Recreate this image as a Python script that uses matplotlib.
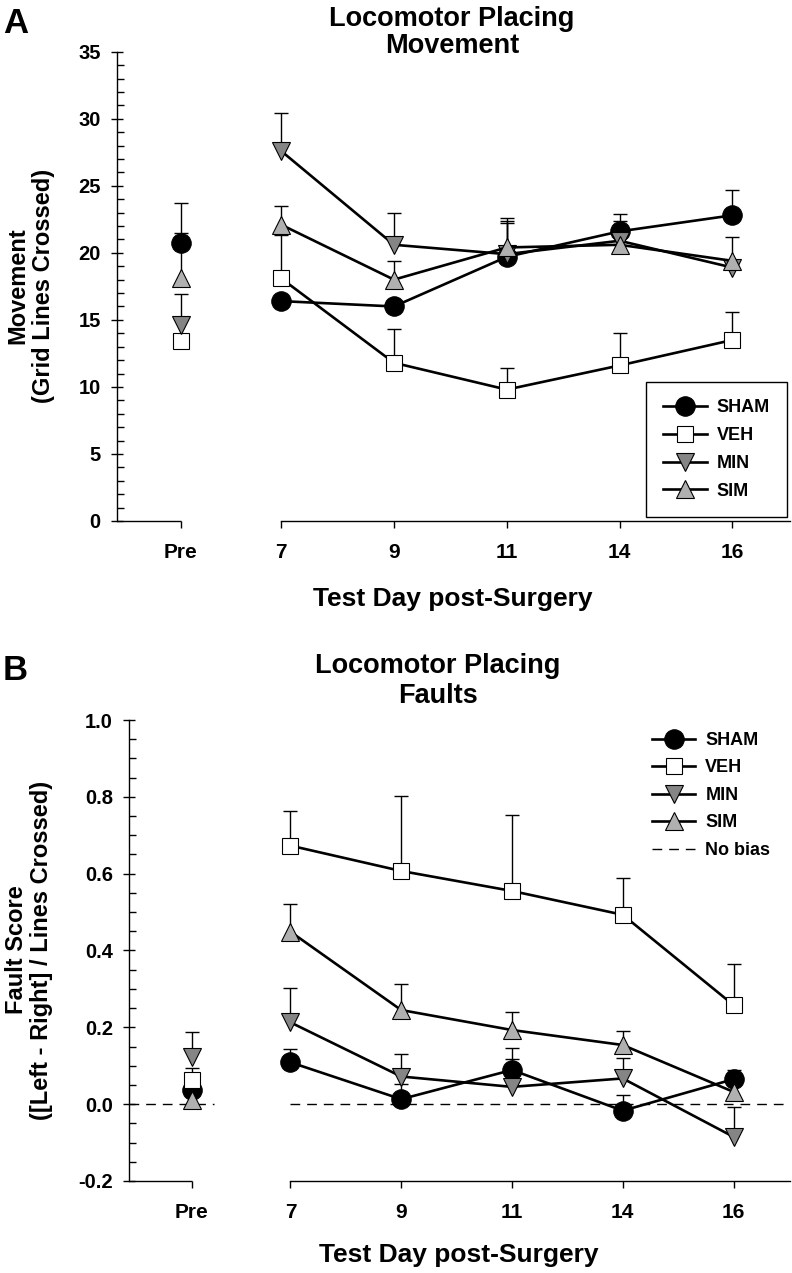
import numpy as np
import matplotlib
matplotlib.use('Agg')
import matplotlib.pyplot as plt
from matplotlib.ticker import MultipleLocator, FormatStrFormatter

plt.rcParams['font.family'] = ['Liberation Sans', 'DejaVu Sans']
plt.rcParams['font.weight'] = 'bold'
plt.rcParams['axes.unicode_minus'] = False

# x categories: Pre + test days post-surgery
day_labels = ['Pre', '7', '9', '11', '14', '16']
groups = ['SHAM', 'VEH', 'MIN', 'SIM']

# Panel A - movement (grid lines crossed), first value = Pre
mov_sham = [20.7, 16.4, 16.0, 19.7, 21.6, 22.8]
mov_sham_se = [3.0, 0.4, 0.4, 2.9, 1.3, 1.9]
mov_veh = [13.4, 18.1, 11.8, 9.8, 11.6, 13.5]
mov_veh_se = [1.8, 3.2, 2.5, 1.6, 2.4, 2.1]
mov_min = [14.6, 27.6, 20.6, 19.9, 20.9, 18.9]
mov_min_se = [2.3, 2.8, 2.4, 2.5, 1.5, 0.5]
mov_sim = [18.1, 22.1, 18.0, 20.4, 20.6, 19.4]
mov_sim_se = [3.4, 1.4, 1.4, 1.8, 0.6, 1.8]

# Panel B - fault score, first value = Pre
flt_sham = [0.037, 0.109, 0.013, 0.089, -0.017, 0.065]
flt_sham_se = [0.03, 0.034, 0.04, 0.057, 0.04, 0.024]
flt_veh = [0.063, 0.673, 0.607, 0.555, 0.493, 0.258]
flt_veh_se = [0.03, 0.091, 0.196, 0.199, 0.096, 0.107]
flt_min = [0.123, 0.213, 0.072, 0.045, 0.067, -0.085]
flt_min_se = [0.064, 0.09, 0.058, 0.072, 0.053, 0.077]
flt_sim = [0.01, 0.449, 0.245, 0.193, 0.154, 0.032]
flt_sim_se = [0.02, 0.073, 0.068, 0.047, 0.036, 0.02]

styles = {
    'SHAM': dict(marker='o', mfc='black', ms=14),
    'VEH': dict(marker='s', mfc='white', ms=11.5),
    'MIN': dict(marker='v', mfc='#858585', ms=13),
    'SIM': dict(marker='^', mfc='#b0b0b0', ms=13),
}

W, H = 792, 1273
fig = plt.figure(figsize=(W / 100, H / 100), dpi=100)

# positions: Pre sits a bit apart from the days
xpos = np.array([0.11, 1, 2, 3, 4, 5])
xlim = (-0.457, 5.51)


def fx(px):
    return px / W


def fy(px):
    return 1 - px / H


def setup_axis(ax, ylim, major, minor, fmt):
    ax.set_xlim(*xlim)
    ax.set_ylim(*ylim)
    for s in ['top', 'right']:
        ax.spines[s].set_visible(False)
    ax.spines['left'].set_linewidth(1.0)
    ax.spines['bottom'].set_linewidth(1.0)
    # broken x axis: short bit up to Pre, then the days
    ax.spines['bottom'].set_bounds(xpos[1], xlim[1])
    ax.plot([xlim[0], xpos[0]], [0, 0], transform=ax.get_xaxis_transform(),
            color='black', lw=1.0, clip_on=False, solid_capstyle='butt')
    ax.set_xticks(xpos)
    ax.set_xticklabels(day_labels, fontsize=15)
    ax.tick_params(axis='x', direction='out', length=5, width=1, pad=11)
    ax.yaxis.set_major_locator(MultipleLocator(major))
    ax.yaxis.set_minor_locator(MultipleLocator(minor))
    ax.yaxis.set_major_formatter(FormatStrFormatter(fmt))
    ax.tick_params(axis='y', which='major', direction='inout', length=9,
                   width=1, pad=7, labelsize=14.5)
    ax.tick_params(axis='y', which='minor', direction='in', length=4.8, width=1)


def draw_series(ax, vals, ses, g):
    vals = np.array(vals)
    ses = np.array(ses)
    eb = ax.errorbar(xpos, vals, yerr=[np.zeros_like(ses), ses], fmt='none',
                     ecolor='black', elinewidth=1.0, capsize=5, capthick=1.0,
                     zorder=2)
    eb[1][0].set_visible(False)  # upper bars only
    st = styles[g]
    ax.plot(xpos[:1], vals[:1], ls='none', mec='black', mew=0.8, zorder=4, **st)
    h, = ax.plot(xpos[1:], vals[1:], color='black', lw=1.9, mec='black',
                 mew=0.8, zorder=3, label=g, **st)
    return h


# ---------------- Panel A ----------------
axA = fig.add_axes([fx(116.7), fy(521), fx(790) - fx(116.7), fy(51.7) - fy(521)])
setup_axis(axA, (0, 35), 5, 1, '%d')
hA = []
for g, v, s in zip(groups, [mov_sham, mov_veh, mov_min, mov_sim],
                   [mov_sham_se, mov_veh_se, mov_min_se, mov_sim_se]):
    hA.append(draw_series(axA, v, s, g))

legA = axA.legend(handles=hA, loc='upper left',
                  bbox_to_anchor=(fx(646), fy(382)), bbox_transform=fig.transFigure,
                  frameon=True, fancybox=False, edgecolor='black', framealpha=1,
                  borderpad=0.95, borderaxespad=0, fontsize=13,
                  handlelength=2.45, handletextpad=0.5, labelspacing=0.6)
legA.get_frame().set_linewidth(1.0)

fig.text(fx(3), fy(33), 'A', fontsize=25, va='baseline', ha='left')
fig.text(fx(452), fy(26), 'Locomotor Placing', fontsize=19.5, ha='center', va='baseline')
fig.text(fx(452), fy(53), 'Movement', fontsize=19.5, ha='center', va='baseline')
fig.text(fx(31), fy(286), 'Movement\n(Grid Lines Crossed)', fontsize=17, rotation=90,
         ha='center', va='center', multialignment='center', linespacing=1.14)
fig.text(fx(453), fy(606), 'Test Day post-Surgery', fontsize=19, ha='center', va='baseline')

# ---------------- Panel B ----------------
axB = fig.add_axes([fx(129), fy(1181), fx(790) - fx(129), fy(720) - fy(1181)])
setup_axis(axB, (-0.2, 1.0), 0.2, 0.05, '%.1f')
hB = []
for g, v, s in zip(groups, [flt_sham, flt_veh, flt_min, flt_sim],
                   [flt_sham_se, flt_veh_se, flt_min_se, flt_sim_se]):
    hB.append(draw_series(axB, v, s, g))

axB.plot([xlim[0], xpos[0] + 0.2], [0, 0], color='black', lw=1.0, ls=(0, (7, 5)), zorder=1)
nb, = axB.plot([xpos[1], xlim[1]], [0, 0], color='black', lw=1.0, ls=(0, (7, 5)),
               zorder=1, label='No bias')
hB.append(nb)

axB.legend(handles=hB, loc='upper left',
           bbox_to_anchor=(fx(652), fy(732)), bbox_transform=fig.transFigure,
           frameon=False, borderpad=0, borderaxespad=0, fontsize=13,
           handlelength=2.4, handletextpad=0.55, labelspacing=0.58)

fig.text(fx(3), fy(680), 'B', fontsize=25, va='baseline', ha='left')
fig.text(fx(438), fy(673), 'Locomotor Placing', fontsize=19.5, ha='center', va='baseline')
fig.text(fx(438), fy(703), 'Faults', fontsize=19.5, ha='center', va='baseline')
fig.text(fx(29), fy(950), 'Fault Score\n([Left - Right] / Lines Crossed)', fontsize=17,
         rotation=90, ha='center', va='center', multialignment='center', linespacing=1.14)
fig.text(fx(459), fy(1262), 'Test Day post-Surgery', fontsize=19, ha='center', va='baseline')

fig.savefig('out.png', dpi=100)
